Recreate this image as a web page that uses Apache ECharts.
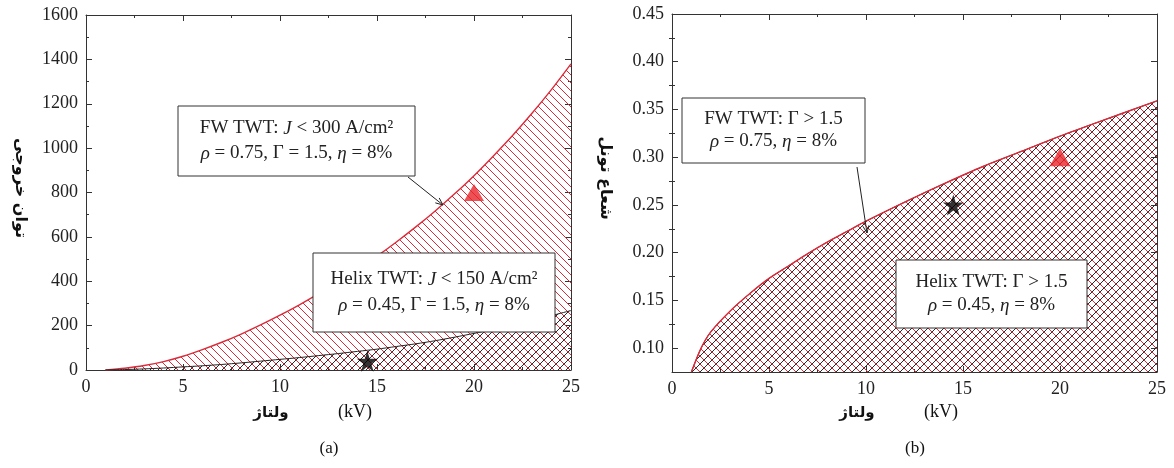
<!DOCTYPE html>
<html>
<head>
<meta charset="utf-8">
<script src="https://cdn.jsdelivr.net/npm/echarts@6/dist/echarts.min.js"></script>
<style>
  html, body { margin: 0; padding: 0; background: #fff; }
  #main { width: 1174px; height: 468px; }
</style>
</head>
<body>
<div id="main"></div>
<script>
// (a) output power vs beam voltage
var voltageA = [1, 2, 3, 4, 5, 6, 7, 8, 9, 10, 11, 12, 13, 14, 15, 16, 17, 18, 19, 20, 21, 22, 23, 24, 25];
var powerFW = [0, 8, 20, 38, 62, 92, 125, 162, 203, 247, 294, 344, 397, 453, 513, 577, 645, 717, 794, 876, 965, 1058, 1158, 1265, 1380];
var powerHelix = [0, 2, 5, 9, 14, 19, 25, 32, 40, 48, 56, 65, 74, 84, 94, 106, 118, 132, 148, 165, 183, 202, 222, 245, 268];
var starA = [14.5, 40];
var triangleA = [20, 800];

// (b) tunnel radius vs beam voltage
var voltageB = [1, 1.5, 2, 3, 4, 5, 6, 7, 8, 9, 10, 12, 14, 16, 18, 20, 22, 25];
var radius = [0.075, 0.100, 0.117, 0.139, 0.157, 0.173, 0.186, 0.199, 0.211, 0.222, 0.233, 0.253, 0.272, 0.290, 0.306, 0.322, 0.337, 0.359];
var starB = [14.5, 0.25];
var triangleB = [20, 0.30];
var radiusLabels = [0.10, 0.15, 0.20, 0.25, 0.30, 0.35, 0.40, 0.45];
var radiusMinor = [0.125, 0.175, 0.225, 0.275, 0.325, 0.375, 0.425];

var serif = '"Liberation Serif", "DejaVu Serif", serif';
var persian = '"DejaVu Sans", sans-serif';
var red = '#d92b3a';
var ink = '#222';
var STAR = 'path://M50,0 L61,35 L98,35 L68,57 L79,91 L50,70 L21,91 L32,57 L2,35 L39,35 Z';

function hatch(color, dir) {
  var c = document.createElement('canvas');
  c.width = 8; c.height = 8;
  var g = c.getContext('2d');
  g.strokeStyle = color;
  g.lineWidth = 1;
  g.beginPath();
  if (dir === 'back') {
    g.moveTo(-2, -2); g.lineTo(10, 10);
    g.moveTo(6, -2); g.lineTo(10, 2);
    g.moveTo(-2, 6); g.lineTo(2, 10);
  } else {
    g.moveTo(-2, 10); g.lineTo(10, -2);
    g.moveTo(-2, 2); g.lineTo(2, -2);
    g.moveTo(6, 10); g.lineTo(10, 6);
  }
  g.stroke();
  return { image: c, repeat: 'repeat' };
}

function pairs(xs, ys) {
  return xs.map(function (x, i) { return [x, ys[i]]; });
}

var lineCol = { color: '#333', width: 1 };
function xPair(gi) {
  var base = {
    type: 'value', gridIndex: gi, min: 0, max: 25, interval: 5,
    axisLine: { show: true, onZero: false, lineStyle: lineCol },
    axisTick: { inside: true, length: 6, lineStyle: lineCol },
    minorTick: { show: true, splitNumber: 2, length: 3, lineStyle: lineCol },
    splitLine: { show: false }
  };
  return [
    Object.assign({}, base, { position: 'bottom', axisLabel: { margin: 8, color: ink, fontFamily: serif, fontSize: 18 } }),
    Object.assign({}, base, { position: 'top', axisLabel: { show: false } })
  ];
}

var yAxes = [];
['left', 'right'].forEach(function (pos) {
  yAxes.push({
    type: 'value', gridIndex: 0, position: pos, min: 0, max: 1600, interval: 200,
    axisLine: { show: true, onZero: false, lineStyle: lineCol },
    axisTick: { inside: true, length: 6, lineStyle: lineCol },
    minorTick: { show: true, splitNumber: 2, length: 3, lineStyle: lineCol },
    splitLine: { show: false },
    axisLabel: { show: pos === 'left', margin: 8, color: ink, fontFamily: serif, fontSize: 18,
      formatter: function (v) { return String(v); } }
  });
});
['left', 'right'].forEach(function (pos) {
  yAxes.push({
    type: 'value', gridIndex: 1, position: pos, min: 0.075, max: 0.45,
    axisLine: { show: true, onZero: false, lineStyle: lineCol },
    axisTick: { inside: true, length: 6, lineStyle: lineCol, customValues: radiusLabels },
    splitLine: { show: false },
    axisLabel: {
      show: pos === 'left', margin: 8, color: ink, fontFamily: serif, fontSize: 18,
      customValues: radiusLabels,
      formatter: function (v) { return v.toFixed(2); }
    }
  });
  yAxes.push({
    type: 'value', gridIndex: 1, position: pos, min: 0.075, max: 0.45,
    axisLine: { show: false },
    axisTick: { inside: true, length: 3, lineStyle: lineCol, customValues: radiusMinor },
    splitLine: { show: false },
    axisLabel: { show: false }
  });
});

var chart = echarts.init(document.getElementById('main'));

var option = {
  animation: false,
  backgroundColor: '#fff',
  grid: [
    { left: 86, top: 15, width: 485, height: 355 },
    { left: 672, top: 14, width: 485, height: 358 }
  ],
  xAxis: xPair(0).concat(xPair(1)),
  yAxis: yAxes,
  series: [
    {
      type: 'line', xAxisIndex: 0, yAxisIndex: 0, data: pairs(voltageA, powerFW),
      smooth: 0.3, showSymbol: false,
      lineStyle: { color: red, width: 1.4 },
      areaStyle: { color: hatch(red, 'back'), opacity: 1 }, z: 2
    },
    {
      type: 'line', xAxisIndex: 0, yAxisIndex: 0, data: pairs(voltageA, powerHelix),
      smooth: 0.3, showSymbol: false,
      lineStyle: { color: '#222', width: 1 },
      areaStyle: { color: hatch('#2a2a2a', 'fwd'), opacity: 1 }, z: 3
    },
    {
      type: 'scatter', xAxisIndex: 0, yAxisIndex: 0, data: [starA],
      symbol: STAR, symbolSize: 21, itemStyle: { color: '#000' }, z: 5
    },
    {
      type: 'scatter', xAxisIndex: 0, yAxisIndex: 0, data: [triangleA],
      symbol: 'triangle', symbolSize: [20, 17], itemStyle: { color: '#e8262b' }, z: 5
    },
    {
      type: 'line', xAxisIndex: 2, yAxisIndex: 2, data: pairs(voltageB, radius),
      smooth: 0.3, showSymbol: false,
      lineStyle: { color: '#222', width: 1 },
      areaStyle: { color: hatch('#2a2a2a', 'fwd'), opacity: 1, origin: 'start' }, z: 2
    },
    {
      type: 'line', xAxisIndex: 2, yAxisIndex: 2, data: pairs(voltageB, radius),
      smooth: 0.3, showSymbol: false,
      lineStyle: { color: red, width: 1.4 },
      areaStyle: { color: hatch(red, 'back'), opacity: 1, origin: 'start' }, z: 3
    },
    {
      type: 'scatter', xAxisIndex: 2, yAxisIndex: 2, data: [starB],
      symbol: STAR, symbolSize: 21, itemStyle: { color: '#000' }, z: 5
    },
    {
      type: 'scatter', xAxisIndex: 2, yAxisIndex: 2, data: [triangleB],
      symbol: 'triangle', symbolSize: [21, 18], itemStyle: { color: '#e8262b' }, z: 5
    }
  ]
};
chart.setOption(option);

// annotation boxes, arrows and axis titles
var rich = {
  i: { fontStyle: 'italic', fontFamily: serif, fontSize: 19, fill: ink }
};
function note(x, y, w, h, text, lh) {
  return [
    { type: 'rect', shape: { x: x, y: y, width: w, height: h }, style: { fill: '#fff', stroke: '#333', lineWidth: 1 }, z: 100 },
    { type: 'text', x: x + w / 2, y: y + h / 2, z: 101,
      style: { text: text, fill: ink, fontFamily: serif, fontSize: 19, align: 'center', verticalAlign: 'middle', lineHeight: lh, rich: rich } }
  ];
}
function arrow(x1, y1, x2, y2) {
  var a = Math.atan2(y2 - y1, x2 - x1), L = 8, s = 0.4;
  return [
    { type: 'polyline', z: 100, shape: { points: [[x1, y1], [x2, y2]] }, style: { stroke: '#222', lineWidth: 1 } },
    { type: 'polyline', z: 100, shape: { points: [
        [x2 - L * Math.cos(a - s), y2 - L * Math.sin(a - s)], [x2, y2],
        [x2 - L * Math.cos(a + s), y2 - L * Math.sin(a + s)]] },
      style: { stroke: '#222', lineWidth: 1, fill: null } }
  ];
}
function label(x, y, text, font, rot) {
  return { type: 'text', x: x, y: y, rotation: rot || 0, z: 100,
    style: { text: text, fill: '#111', font: font, align: 'center', verticalAlign: 'middle' } };
}

var g = [];
g = g.concat(note(178, 106, 237, 70, 'FW TWT: {i|J} < 300 A/cm²\n{i|ρ} = 0.75, Γ = 1.5, {i|η} = 8%', 25));
g = g.concat(note(313, 253, 242, 79, 'Helix TWT: {i|J} < 150 A/cm²\n{i|ρ} = 0.45, Γ = 1.5, {i|η} = 8%', 26));
g = g.concat(arrow(408, 177, 443, 205));
g = g.concat(note(682, 98, 183, 65, 'FW TWT: Γ > 1.5\n{i|ρ} = 0.75, {i|η} = 8%', 22));
g = g.concat(note(896, 260, 191, 68, 'Helix TWT: Γ > 1.5\n{i|ρ} = 0.45, {i|η} = 8%', 23));
g = g.concat(arrow(857, 167, 867, 233));

g.push(label(271, 413, 'ولتاژ', 'bold 15px ' + persian));
g.push(label(355, 412, '(kV)', '18px ' + serif));
g.push(label(329, 449, '(a)', '17px ' + serif));
g.push(label(20, 188, 'توان خروجی', 'bold 16px ' + persian, -Math.PI / 2));

g.push(label(857, 413, 'ولتاژ', 'bold 15px ' + persian));
g.push(label(941, 412, '(kV)', '18px ' + serif));
g.push(label(915, 449, '(b)', '17px ' + serif));
g.push(label(605, 178, 'شعاع تونل', 'bold 16px ' + persian, -Math.PI / 2));

chart.setOption({ graphic: g });
</script>
</body>
</html>
